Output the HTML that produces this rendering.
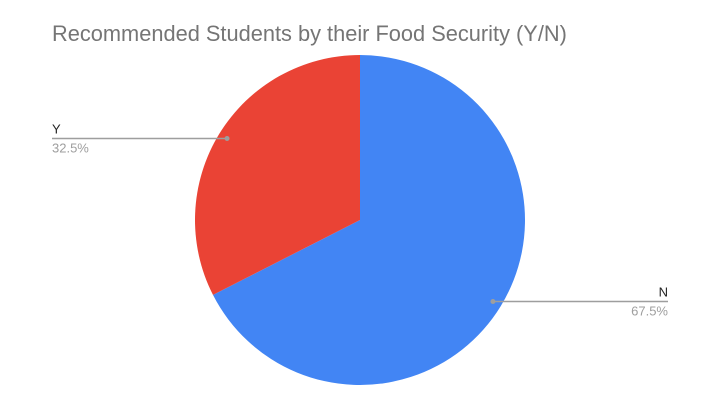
<!DOCTYPE html>
<html><head><meta charset="utf-8"><style>
html,body{margin:0;padding:0;background:#fff;width:720px;height:405px;overflow:hidden;font-family:"Liberation Sans",Arial,sans-serif}
</style></head><body>
<svg id="chart" width="720" height="405" xmlns="http://www.w3.org/2000/svg">
<text x="52" y="41" font-size="21.8" fill="#757575" font-family="Liberation Sans, Arial, sans-serif">Recommended Students by their Food Security (Y/N)</text>
<g id="slices"></g>
<g id="labels"></g>
</svg>
<script>
const categories = ["N", "Y"];
const values = [67.5, 32.5];
const colors = ["#4285f4", "#ea4335"];
const cx = 360, cy = 220, r = 165;
const total = values.reduce((a, b) => a + b, 0);
const ns = "http://www.w3.org/2000/svg";
const slices = document.getElementById("slices");
const labels = document.getElementById("labels");
let start = 0;
function pt(a, rr) { return [cx + rr * Math.sin(a), cy - rr * Math.cos(a)]; }
values.forEach((v, i) => {
  const ang = v / total * 2 * Math.PI;
  const end = start + ang;
  const [x1, y1] = pt(start, r), [x2, y2] = pt(end, r);
  const p = document.createElementNS(ns, "path");
  p.setAttribute("d", `M${cx},${cy} L${x1},${y1} A${r},${r} 0 ${ang > Math.PI ? 1 : 0} 1 ${x2},${y2} Z`);
  p.setAttribute("fill", colors[i]);
  
  
  slices.appendChild(p);
  const mid = start + ang / 2;
  const [mx, my] = pt(mid, r * 0.945);
  const right = Math.sin(mid) > 0;
  const lx = right ? 668 : 52;
  const g = document.createElementNS(ns, "g");
  
  
  const line = document.createElementNS(ns, "line");
  line.setAttribute("x1", mx); line.setAttribute("y1", my);
  line.setAttribute("x2", lx); line.setAttribute("y2", my);
  line.setAttribute("stroke", "#9e9e9e"); line.setAttribute("stroke-width", "1.5");
  g.appendChild(line);
  const dot = document.createElementNS(ns, "circle");
  dot.setAttribute("cx", mx); dot.setAttribute("cy", my); dot.setAttribute("r", "2.5");
  dot.setAttribute("fill", "#9e9e9e");
  g.appendChild(dot);
  const t1 = document.createElementNS(ns, "text");
  t1.setAttribute("x", lx); t1.setAttribute("y", my - 5);
  t1.setAttribute("font-size", "13"); t1.setAttribute("fill", "#222");
  t1.setAttribute("text-anchor", right ? "end" : "start");
  t1.textContent = categories[i];
  g.appendChild(t1);
  const t2 = document.createElementNS(ns, "text");
  t2.setAttribute("x", lx); t2.setAttribute("y", my + 14);
  t2.setAttribute("font-size", "13"); t2.setAttribute("fill", "#9e9e9e");
  t2.setAttribute("text-anchor", right ? "end" : "start");
  t2.textContent = (v / total * 100).toFixed(1) + "%";
  g.appendChild(t2);
  labels.appendChild(g);
  start = end;
});
</script>
</body></html>
